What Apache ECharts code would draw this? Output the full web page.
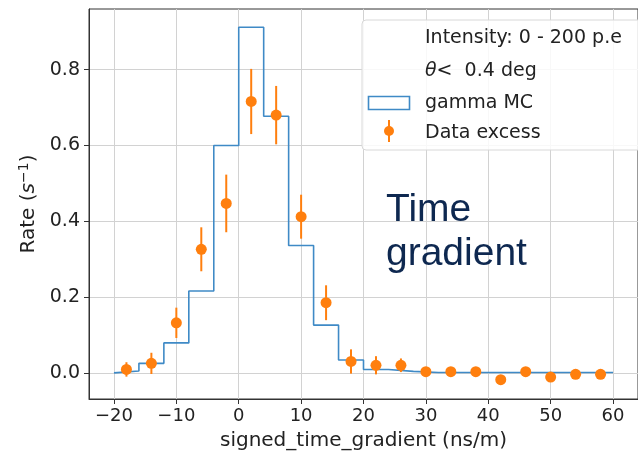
<!DOCTYPE html>
<html>
<head>
<meta charset="utf-8">
<script src="https://cdn.jsdelivr.net/npm/echarts@6/dist/echarts.min.js"></script>
<style>
  html, body { margin: 0; padding: 0; background: #fff; }
  #chart { width: 638px; height: 456px; }
</style>
</head>
<body>
<div id="chart"></div>
<script>
// histogram of the MC (bin edges every 4 ns/m)
var binEdges = [-20, -16, -12, -8, -4, 0, 4, 8, 12, 16, 20, 24, 28, 32, 36, 40, 44, 48, 52, 56, 60];
var mcRate = [0.005, 0.025, 0.079, 0.216, 0.600, 0.912, 0.677, 0.336, 0.126, 0.034,
              0.009, 0.004, 0.001, 0.001, 0.001, 0.001, 0.001, 0.001, 0.001, 0.001];

// data excess points with errors
var dataX = [-18, -14, -10, -6, -2, 2, 6, 10, 14, 18, 22, 26, 30, 34, 38, 42, 46, 50, 54, 58];
var dataRate = [0.009, 0.025, 0.132, 0.326, 0.447, 0.716, 0.680, 0.412, 0.185, 0.030,
                0.020, 0.020, 0.003, 0.003, 0.003, -0.018, 0.003, -0.011, -0.004, -0.004];
var dataErr = [0.019, 0.028, 0.040, 0.058, 0.076, 0.086, 0.077, 0.058, 0.046, 0.032,
               0.024, 0.018, 0.008, 0.008, 0.008, 0.008, 0.008, 0.008, 0.008, 0.008];

var xTicks = [-20, -10, 0, 10, 20, 30, 40, 50, 60];
var yTicks = [0, 0.2, 0.4, 0.6, 0.8];

var mpl = 'DejaVu Sans';
var blue = '#3f8ac6';
var orange = '#ff7f0e';

var chart = echarts.init(document.getElementById('chart'));

// step outline like histtype='step'
var stepData = [[binEdges[0], 0]];
for (var i = 0; i < mcRate.length; i++) {
    stepData.push([binEdges[i], mcRate[i]]);
    stepData.push([binEdges[i + 1], mcRate[i]]);
}
stepData.push([binEdges[binEdges.length - 1], 0]);

var errData = dataX.map(function (x, i) {
    return [x, dataRate[i] - dataErr[i], dataRate[i] + dataErr[i]];
});
var pts = dataX.map(function (x, i) { return [x, dataRate[i]]; });

const option = {
    animation: false,
    grid: {
        left: 89,
        top: 9,
        width: 562,
        height: 390,
        show: true,
        borderColor: '#333',
        borderWidth: 1
    },
    xAxis: {
        type: 'value',
        min: -24,
        max: 64,
        name: 'signed_time_gradient (ns/m)',
        nameLocation: 'middle',
        nameGap: 32,
        nameTextStyle: { fontFamily: mpl, fontSize: 20, color: '#222' },
        axisLine: { show: true, onZero: false, lineStyle: { color: '#333' } },
        axisTick: { show: true, length: 5, customValues: xTicks, lineStyle: { color: '#333' } },
        axisLabel: {
            customValues: xTicks,
            margin: 8,
            fontFamily: mpl,
            fontSize: 18,
            color: '#222',
            formatter: function (v) { return v < 0 ? '\u2212' + Math.abs(v) : String(v); }
        },
        splitLine: { show: true, lineStyle: { color: '#d2d2d2', width: 1 } }
    },
    yAxis: {
        type: 'value',
        min: -0.069,
        max: 0.96,
        name: 'Rate ({i|s}{sup|\u22121})',
        nameLocation: 'middle',
        nameRotate: 90,
        nameGap: 48,
        nameTextStyle: {
            fontFamily: mpl, fontSize: 20, color: '#222',
            rich: {
                i: { fontFamily: mpl, fontSize: 20, fontStyle: 'italic', color: '#222' },
                sup: { fontFamily: mpl, fontSize: 14, color: '#222', padding: [0, 0, 10, 0] }
            }
        },
        axisLine: { show: true, onZero: false, lineStyle: { color: '#333' } },
        axisTick: { show: true, length: 5, customValues: yTicks, lineStyle: { color: '#333' } },
        axisLabel: {
            customValues: yTicks,
            margin: 9,
            fontFamily: mpl,
            fontSize: 19,
            color: '#222',
            formatter: function (v) { return v.toFixed(1); }
        },
        splitLine: { show: true, lineStyle: { color: '#d2d2d2', width: 1 } }
    },
    series: [
        {
            name: 'gamma MC',
            type: 'line',
            data: stepData,
            showSymbol: false,
            lineStyle: { color: blue, width: 1.6 },
            z: 3
        },
        {
            name: 'errors',
            type: 'custom',
            data: errData,
            renderItem: function (params, api) {
                var lo = api.coord([api.value(0), api.value(1)]);
                var hi = api.coord([api.value(0), api.value(2)]);
                return {
                    type: 'line',
                    shape: { x1: lo[0], y1: lo[1], x2: hi[0], y2: hi[1] },
                    style: { stroke: orange, lineWidth: 2 }
                };
            },
            z: 4
        },
        {
            name: 'Data excess',
            type: 'scatter',
            data: pts,
            symbol: 'circle',
            symbolSize: 11,
            itemStyle: { color: orange, opacity: 1 },
            z: 5
        }
    ],
    graphic: [
        // legend box
        {
            type: 'rect',
            shape: { x: 362, y: 20, width: 300, height: 130, r: 4 },
            style: { fill: 'rgba(255,255,255,0.85)', stroke: '#d8d8d8', lineWidth: 1 },
            z: 100
        },
        {
            type: 'text', x: 425, y: 38, z: 101,
            style: { text: 'Intensity: 0 - 200 p.e', fontFamily: mpl, fontSize: 19, fill: '#222', verticalAlign: 'middle' }
        },
        {
            type: 'text', x: 425, y: 71, z: 101,
            style: {
                text: '{t|\u03b8}< \u00a00.4 deg',
                fontFamily: mpl, fontSize: 19, fill: '#222', verticalAlign: 'middle',
                rich: { t: { fontFamily: mpl, fontSize: 19, fontStyle: 'italic', fill: '#222' } }
            }
        },
        {
            type: 'rect', z: 101,
            shape: { x: 368.5, y: 96.5, width: 41, height: 13 },
            style: { fill: '#fff', stroke: blue, lineWidth: 1.6 }
        },
        {
            type: 'text', x: 425, y: 103, z: 101,
            style: { text: 'gamma MC', fontFamily: mpl, fontSize: 19, fill: '#222', verticalAlign: 'middle' }
        },
        {
            type: 'line', z: 101,
            shape: { x1: 389, y1: 120, x2: 389, y2: 142 },
            style: { stroke: orange, lineWidth: 2 }
        },
        {
            type: 'circle', z: 102,
            shape: { cx: 389, cy: 131, r: 5 },
            style: { fill: orange }
        },
        {
            type: 'text', x: 425, y: 133, z: 101,
            style: { text: 'Data excess', fontFamily: mpl, fontSize: 19, fill: '#222', verticalAlign: 'middle' }
        },
        // slide annotation
        {
            type: 'text', x: 386, y: 188, z: 101,
            style: {
                text: 'Time\ngradient',
                fontFamily: 'Liberation Sans',
                fontSize: 39,
                lineHeight: 44,
                fill: '#0e2850'
            }
        }
    ]
};

chart.setOption(option);
</script>
</body>
</html>
